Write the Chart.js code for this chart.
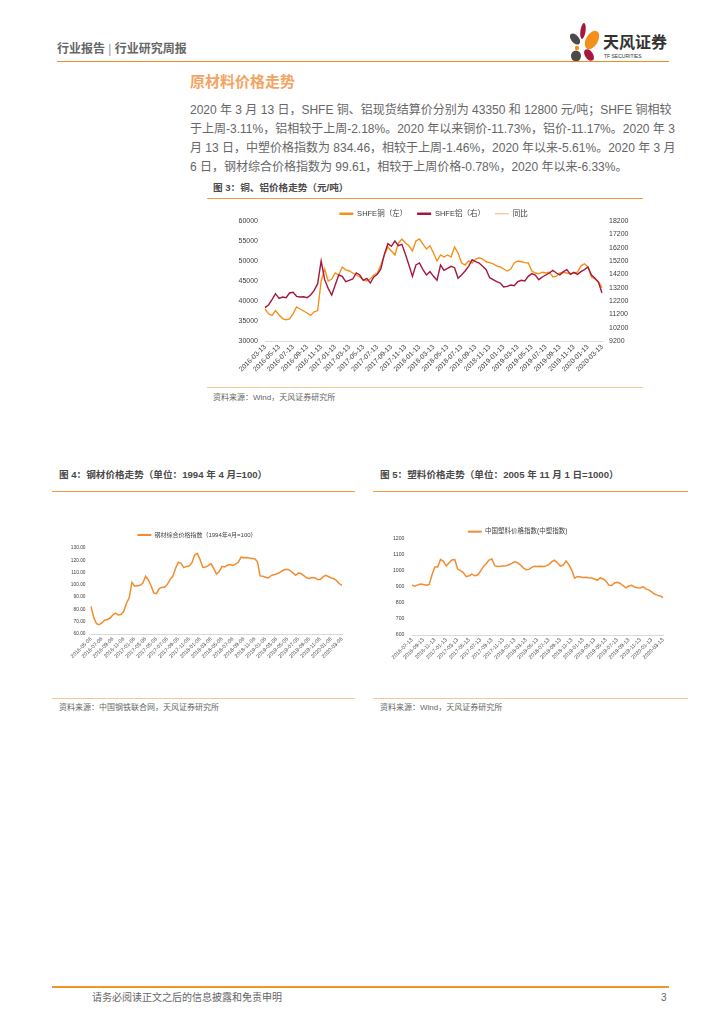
<!DOCTYPE html>
<html>
<head>
<meta charset="utf-8">
<script src="https://cdn.jsdelivr.net/npm/chart.js@4.4.1/dist/chart.umd.min.js"></script>
<style>
  body { margin: 0; width: 724px; height: 1024px; position: relative; overflow: hidden; background: #fff;
         font-family: "Liberation Sans", "Noto Sans CJK SC", sans-serif; color: #595959; }
  .abs { position: absolute; white-space: nowrap; }
  .rule { position: absolute; height: 0; }
  .para { position: absolute; left: 190px; width: 478px; font-size: 12px; line-height: 18px; color: #666;
          text-align: justify; text-align-last: justify; white-space: nowrap; }
  .figtitle { position: absolute; font-size: 9.6px; font-weight: bold; color: #4a4a4a; line-height: 12px; white-space: nowrap; }
  .source { position: absolute; font-size: 8px; color: #666; line-height: 10px; white-space: nowrap; }
  .box { position: absolute; }
</style>
</head>
<body>

<!-- page header -->
<div class="abs" style="left:57px;top:41px;font-size:12px;line-height:16px;font-weight:bold;color:#666">行业报告 <span style="font-weight:normal;color:#999">|</span> 行业研究周报</div>
<svg class="abs" style="left:566px;top:20px" width="40" height="44" viewBox="0 0 40 44">
  <ellipse cx="17" cy="11" rx="2.6" ry="8" transform="rotate(8 17 11)" fill="#A8173F"/>
  <ellipse cx="9" cy="19" rx="3.8" ry="6.5" transform="rotate(-40 9 19)" fill="#4A4A4A"/>
  <ellipse cx="26" cy="20" rx="6" ry="10" transform="rotate(30 26 20)" fill="#F39019"/>
  <circle cx="11" cy="28" r="2.2" fill="#F39019"/>
  <ellipse cx="10" cy="36" rx="5" ry="5.5" fill="#4A4A4A"/>
  <ellipse cx="23" cy="35" rx="4" ry="6.5" transform="rotate(-35 23 35)" fill="#A8173F"/>
</svg>
<div class="abs" style="left:603px;top:34px;font-size:16px;line-height:18px;font-weight:bold;color:#333">天风证券</div>
<div class="abs" style="left:604px;top:53px;font-size:5px;line-height:6px;color:#333">TF SECURITIES</div>
<div class="rule" style="left:57px;top:61px;width:612px;border-top:1.5px solid #F08C28"></div>

<!-- section title and text -->
<div class="abs" style="left:190px;top:73px;font-size:15px;line-height:18px;font-weight:bold;color:#F4A462">原材料价格走势</div>
<div class="para" style="top:101px">2020 年 3 月 13 日，SHFE 铜、铝现货结算价分别为 43350 和 12800 元/吨；SHFE 铜相较</div>
<div class="para" style="top:120px">于上周-3.11%，铝相较于上周-2.18%。2020 年以来铜价-11.73%，铝价-11.17%。2020 年 3</div>
<div class="para" style="top:139px">月 13 日，中塑价格指数为 834.46，相较于上周-1.46%，2020 年以来-5.61%。2020 年 3 月</div>
<div class="para" style="top:157.5px;text-align-last:left">6 日，钢材综合价格指数为 99.61，相较于上周价格-0.78%，2020 年以来-6.33%。</div>

<!-- figure 3 -->
<div class="figtitle" style="left:213px;top:182px">图 3：铜、铝价格走势（元/吨）</div>
<div class="rule" style="left:207px;top:198px;width:436px;border-top:1px solid #F39A45"></div>
<div class="box" style="left:207px;top:200px;width:436px;height:185px"><canvas id="chart3"></canvas></div>
<div class="rule" style="left:207px;top:387px;width:436px;border-top:1px solid #F8C594"></div>
<div class="source" style="left:213px;top:393px">资料来源：Wind，天风证券研究所</div>

<!-- figure 4 -->
<div class="figtitle" style="left:59px;top:469px">图 4：钢材价格走势（单位：1994 年 4 月=100）</div>
<div class="rule" style="left:52px;top:491px;width:303px;border-top:1px solid #F39A45"></div>
<div class="box" style="left:52px;top:520px;width:303px;height:150px"><canvas id="chart4"></canvas></div>
<div class="rule" style="left:52px;top:698px;width:303px;border-top:1px solid #F8C594"></div>
<div class="source" style="left:59px;top:703px">资料来源：中国钢铁联合网，天风证券研究所</div>

<!-- figure 5 -->
<div class="figtitle" style="left:380px;top:469px">图 5：塑料价格走势（单位：2005 年 11 月 1 日=1000）</div>
<div class="rule" style="left:373px;top:491px;width:315px;border-top:1px solid #F39A45"></div>
<div class="box" style="left:372px;top:515px;width:316px;height:155px"><canvas id="chart5"></canvas></div>
<div class="rule" style="left:373px;top:698px;width:315px;border-top:1px solid #F8C594"></div>
<div class="source" style="left:380px;top:703px">资料来源：Wind，天风证券研究所</div>

<!-- footer -->
<div class="rule" style="left:52px;top:986px;width:617px;border-top:2px solid #F0962A"></div>
<div class="abs" style="left:92px;top:992px;font-size:10px;line-height:12px;color:#666">请务必阅读正文之后的信息披露和免责申明</div>
<div class="abs" style="left:661px;top:992px;font-size:10px;line-height:12px;color:#666">3</div>

<script>
// ---- data (semi-monthly points) ----
// Fig 3: SHFE copper (yuan/t, left axis) and aluminium (yuan/t, right axis), 2016-03-13 .. 2020-03-13
const copperPrice = [
  38000, 36800, 36400, 37600, 36500, 35600, 35300, 35500, 36800, 38500,
  38000, 37500, 37000, 36400, 37300, 37600, 45000, 48000, 45000, 45500,
  47000, 46500, 48500, 47800, 47500, 47000, 46500, 46000, 45300, 45000,
  45500, 46500, 47000, 49000, 51500, 53500, 52500, 51500, 54500, 55500,
  54500, 53800, 52500, 55000, 55500, 54200, 53000, 53800, 52000, 50000,
  51500, 51000, 51500, 51000, 53500, 52000, 49500, 49000, 50000, 49500,
  50500, 50800, 50500, 49800, 49600, 49300, 48800, 48500, 48000, 47500,
  48000, 49500, 50000, 49800, 49600, 49500, 47500, 47000, 46800, 47200,
  47000, 47200, 46000, 46200, 47000, 47200, 47000, 46800, 47000, 47200,
  48800, 49300, 48500, 46000, 45500, 44800, 43350
];
const aluminiumPrice = [
  11700, 11900, 12300, 12750, 12400, 12500, 12450, 12800, 12850, 12550,
  12500, 12520, 12450, 12650, 13000, 13500, 15200, 13800, 13150, 12650,
  13400, 14150, 14050, 13650, 13750, 13850, 14300, 14150, 13750, 13900,
  13550, 14000, 14200, 14600, 15700, 16500, 16300, 16700, 16350, 16450,
  15700, 14900, 14050, 14900, 15050, 14550, 14150, 14400, 14050, 13750,
  14900, 14500, 14650, 14800, 14700, 13900, 14150, 14450, 14800, 15300,
  15150, 15050, 14800, 14550, 13950, 13800, 13650, 13550, 13250, 13300,
  13400, 13350, 13650, 13750, 13700, 14050, 14250, 14150, 13800, 14000,
  14150, 14300, 14500, 14300, 14150, 14400, 14550, 14200, 14350, 14200,
  14400, 14550, 14750, 14150, 13900, 13600, 12800
];
const ticks3 = [
  '2016-03-13', '2016-05-13', '2016-07-13', '2016-09-13', '2016-11-13', '2017-01-13', '2017-03-13',
  '2017-05-13', '2017-07-13', '2017-09-13', '2017-11-13', '2018-01-13', '2018-03-13', '2018-05-13',
  '2018-07-13', '2018-09-13', '2018-11-13', '2019-01-13', '2019-03-13', '2019-05-13', '2019-07-13',
  '2019-09-13', '2019-11-13', '2020-01-13', '2020-03-13'
];

// Fig 4: steel composite price index (1994-04 = 100), 2016-05-06 .. 2020-03-06
const steelIndex = [
  82.5, 73.5, 68.4, 67.6, 69.0, 71.2, 71.8, 73.0, 75.5, 77.0,
  75.4, 75.8, 78.5, 85.0, 89.5, 102.0, 98.9, 99.3, 99.6, 101.5,
  107.0, 104.0, 99.5, 93.5, 92.8, 97.0, 98.0, 98.0, 100.5, 104.5,
  107.0, 113.5, 118.4, 117.5, 114.0, 115.0, 115.3, 118.0, 124.5, 125.5,
  120.5, 114.2, 114.5, 115.6, 117.2, 113.2, 108.8, 110.8, 115.1, 114.6,
  116.0, 116.5, 115.8, 116.8, 118.4, 122.5, 122.0, 122.3, 121.8, 121.5,
  121.2, 119.0, 107.3, 107.0, 106.2, 105.6, 107.5, 108.2, 108.9, 109.8,
  111.3, 112.5, 112.5, 111.8, 109.7, 107.8, 109.6, 109.2, 107.5, 105.8,
  105.2, 105.9, 105.8, 104.4, 104.3, 106.5, 107.8, 106.8, 105.6, 105.0,
  103.4, 101.0, 99.61
];
const ticks4 = [
  '2016-05-06', '2016-07-06', '2016-09-06', '2016-11-06', '2017-01-06', '2017-03-06', '2017-05-06',
  '2017-07-06', '2017-09-06', '2017-11-06', '2018-01-06', '2018-03-06', '2018-05-06', '2018-07-06',
  '2018-09-06', '2018-11-06', '2019-01-06', '2019-03-06', '2019-05-06', '2019-07-06', '2019-09-06',
  '2019-11-06', '2020-01-06', '2020-03-06'
];

// Fig 5: China plastics price index (2005-11-01 = 1000), 2016-07-13 .. 2020-03-13
const plasticIndex = [
  912, 905, 913, 918, 916, 911, 915, 975, 1025, 1025,
  1072, 1060, 1031, 1052, 1069, 1072, 1012, 1003, 990, 965,
  970, 980, 970, 975, 998, 1027, 1045, 1068, 1075, 1033,
  1028, 1029, 1031, 1033, 1039, 1048, 1057, 1052, 1038, 1020,
  1008, 1010, 1023, 1030, 1028, 1030, 1028, 1032, 1040, 1058,
  1068, 1050, 1031, 1037, 1062, 1040, 1006, 956, 966, 963,
  960, 961, 958, 956, 950, 942, 958, 950, 937, 912,
  909, 925, 930, 922, 908, 895, 906, 911, 900, 896,
  894, 902, 888, 882, 870, 856, 849, 844, 834.46
];
const ticks5 = [
  '2016-07-13', '2016-09-13', '2016-11-13', '2017-01-13', '2017-03-13', '2017-05-13', '2017-07-13',
  '2017-09-13', '2017-11-13', '2018-01-13', '2018-03-13', '2018-05-13', '2018-07-13', '2018-09-13',
  '2018-11-13', '2019-01-13', '2019-03-13', '2019-05-13', '2019-07-13', '2019-09-13', '2019-11-13',
  '2020-01-13', '2020-03-13'
];

const ORANGE = '#F39019';
const CRIMSON = '#A6173F';
const LINE_ORANGE = '#F28C30';
const TICK_COLOR = '#404040';
const AXIS_COLOR = '#D9D9D9';

Chart.defaults.font.family = '"Liberation Sans", "Noto Sans CJK SC", sans-serif';
Chart.defaults.color = TICK_COLOR;
Chart.defaults.animation = false;

// Two dates a month (day1, day2) starting at year-month
function halfMonthDates(year, month, days, count) {
  const out = [];
  for (let i = 0; i < count; i++) {
    const m = month - 1 + Math.floor(i / 2);
    const y = year + Math.floor(m / 12);
    const mm = String(m % 12 + 1).padStart(2, '0');
    out.push(`${y}-${mm}-${days[i % 2]}`);
  }
  return out;
}

// Only show the category labels listed in tickLabels
function tickFilter(tickLabels) {
  const keep = new Set(tickLabels);
  return function (value) {
    const label = this.getLabelForValue(value);
    return keep.has(label) ? label : null;
  };
}

// Legend height is forced so the plot sits right under it, as in the report
const legendFit = {
  id: 'legendFit',
  beforeLayout(chart, args, opts) {
    const lg = chart.legend;
    if (lg && !lg.$fitPatched) {
      const fit = lg.fit;
      lg.fit = function () { fit.call(this); if (opts.height != null) this.height = opts.height; };
      lg.$fitPatched = true;
    }
  }
};

function xAxis(tickLabels, fontSize, height) {
  return {
    type: 'category',
    grid: { display: false, drawTicks: false },
    border: { display: true, color: AXIS_COLOR, width: 1 },
    ticks: {
      autoSkip: false, maxRotation: 45, minRotation: 45, padding: 2,
      font: { size: fontSize }, color: TICK_COLOR,
      callback: tickFilter(tickLabels)
    },
    afterFit: scale => { scale.height = height; }
  };
}

function yAxis(opts) {
  return {
    position: opts.position || 'left',
    min: opts.min, max: opts.max,
    grid: { display: false, drawTicks: false },
    border: { display: false },
    ticks: {
      stepSize: opts.step, padding: opts.padding, font: { size: opts.fontSize }, color: TICK_COLOR,
      callback: opts.format
    },
    afterFit: scale => { scale.width = opts.width; }
  };
}

function lineLegend(fontSize, padding, widths) {
  return {
    display: true,
    position: 'top',
    labels: {
      usePointStyle: true, pointStyle: 'line', pointStyleWidth: 14,
      padding: padding, color: TICK_COLOR, font: { size: fontSize },
      sort: (a, b) => a.datasetIndex - b.datasetIndex,
      generateLabels: chart => Chart.defaults.plugins.legend.labels.generateLabels(chart)
        .map(l => Object.assign(l, { lineWidth: widths[l.datasetIndex] }))
    }
  };
}

// ---- Fig 3: copper / aluminium ----
new Chart(document.getElementById('chart3'), {
  type: 'line',
  data: {
    labels: halfMonthDates(2016, 3, ['13', '28'], copperPrice.length),
    datasets: [
      { label: 'SHFE铜（左）', data: copperPrice, yAxisID: 'y', borderColor: ORANGE, backgroundColor: ORANGE,
        borderWidth: 1.4, pointRadius: 0, order: 2 },
      { label: 'SHFE铝（右）', data: aluminiumPrice, yAxisID: 'y1', borderColor: CRIMSON, backgroundColor: CRIMSON,
        borderWidth: 1.4, pointRadius: 0, order: 1 },
      { label: '同比', data: [], yAxisID: 'y', borderColor: '#F4B183', backgroundColor: '#F4B183',
        borderWidth: 1, pointRadius: 0, order: 3 }
    ]
  },
  options: {
    responsive: true,
    maintainAspectRatio: false,
    layout: { padding: 0 },
    plugins: {
      legend: Object.assign(lineLegend(7.5, 10, [2.5, 2.5, 1]), { fullSize: false }),
      tooltip: { enabled: false },
      legendFit: { height: 21 }
    },
    scales: {
      x: xAxis(ticks3, 6.8, 44),
      y: yAxis({ min: 30000, max: 60000, step: 5000, padding: 7, fontSize: 7, width: 58, format: v => String(v) }),
      y1: yAxis({ position: 'right', min: 9200, max: 18200, step: 1000, padding: 7, fontSize: 7, width: 41, format: v => String(v) })
    }
  },
  plugins: [legendFit]
});

// ---- Fig 4: steel index ----
new Chart(document.getElementById('chart4'), {
  type: 'line',
  data: {
    labels: halfMonthDates(2016, 5, ['06', '21'], steelIndex.length),
    datasets: [
      { label: '钢材综合价格指数（1994年4月=100）', data: steelIndex, borderColor: LINE_ORANGE, backgroundColor: LINE_ORANGE,
        borderWidth: 1.5, pointRadius: 0 }
    ]
  },
  options: {
    responsive: true,
    maintainAspectRatio: false,
    layout: { padding: { left: 0, right: 13, top: 0, bottom: 0 } },
    plugins: {
      legend: lineLegend(6, 12, [2]),
      tooltip: { enabled: false },
      legendFit: { height: 28 }
    },
    scales: {
      x: xAxis(ticks4, 5.3, 36),
      y: yAxis({ min: 60, max: 130, step: 10, padding: 5.5, fontSize: 4.8, width: 39, format: v => v.toFixed(2) })
    }
  },
  plugins: [legendFit]
});

// ---- Fig 5: plastics index ----
new Chart(document.getElementById('chart5'), {
  type: 'line',
  data: {
    labels: halfMonthDates(2016, 7, ['13', '28'], plasticIndex.length),
    datasets: [
      { label: '中国塑料价格指数(中塑指数)', data: plasticIndex, borderColor: LINE_ORANGE, backgroundColor: LINE_ORANGE,
        borderWidth: 1.5, pointRadius: 0 }
    ]
  },
  options: {
    responsive: true,
    maintainAspectRatio: false,
    layout: { padding: { left: 0, right: 25, top: 0, bottom: 0 } },
    plugins: {
      legend: lineLegend(6.5, 13.4, [2]),
      tooltip: { enabled: false },
      legendFit: { height: 24 }
    },
    scales: {
      x: xAxis(ticks5, 5.3, 35),
      y: yAxis({ min: 600, max: 1200, step: 100, padding: 7.5, fontSize: 5.2, width: 40, format: v => String(v) })
    }
  },
  plugins: [legendFit]
});
</script>
</body>
</html>
